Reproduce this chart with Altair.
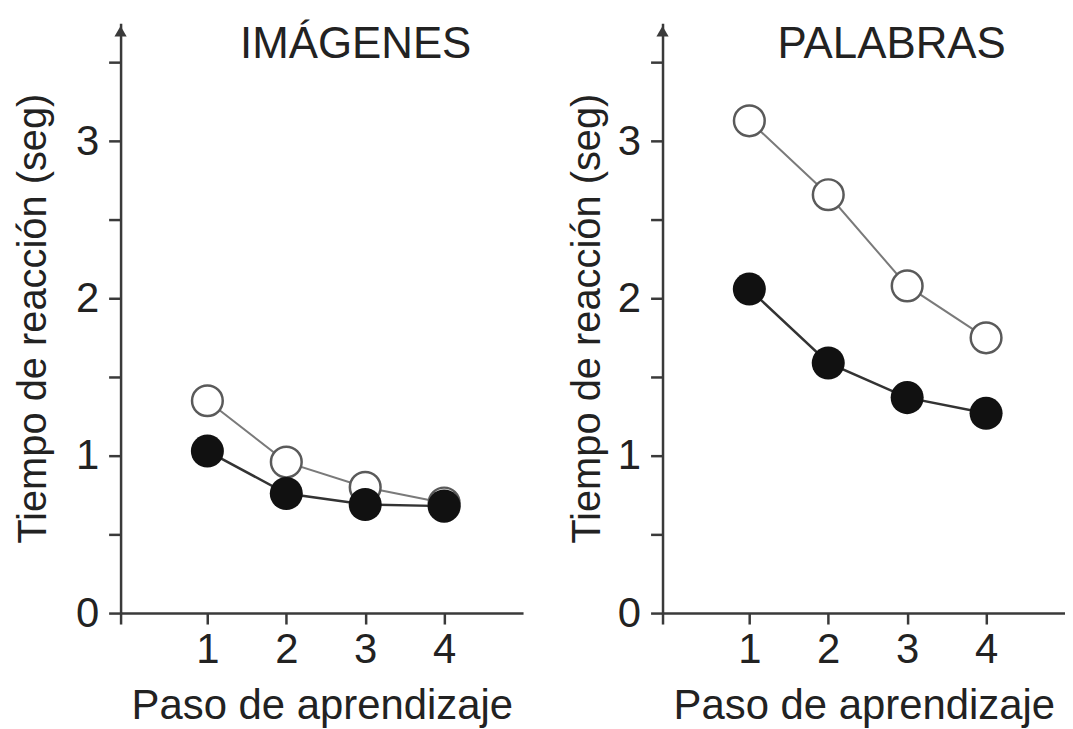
import altair as alt
import pandas as pd

# ---- data ----
steps = [1, 2, 3, 4]
imagenes_abierto = [1.35, 0.96, 0.80, 0.70]
imagenes_lleno = [1.03, 0.76, 0.69, 0.68]
palabras_abierto = [3.13, 2.66, 2.08, 1.75]
palabras_lleno = [2.06, 1.59, 1.37, 1.27]
panel_titles = ["IMÁGENES", "PALABRAS"]
x_title = "Paso de aprendizaje"
y_title = "Tiempo de reacción (seg)"
y_ticks = [0, 0.5, 1, 1.5, 2, 2.5, 3, 3.5]
x_ticks = [-0.1, 1, 2, 3, 4]

FONT = "Liberation Sans"
TXT = "#222222"
AX = "#3a3a3a"
W, H = 404, 592
X_DOM = [-0.1, 5.0]
Y_DOM = [0, 3.75]


def panel(title, open_vals, filled_vals, title_pad, title_x):
    df = pd.DataFrame({
        "paso": steps * 2,
        "t": open_vals + filled_vals,
        "c": ["o"] * len(steps) + ["f"] * len(steps),
    })
    x = alt.X(
        "paso:Q",
        scale=alt.Scale(domain=X_DOM, nice=False, zero=False),
        axis=alt.Axis(
            values=x_ticks,
            labelExpr="datum.value >= 1 ? format(datum.value, 'd') : ''",
            title=x_title,
            grid=False,
            domainColor=AX, domainWidth=2.5,
            tickColor=AX, tickWidth=2.5, tickSize=11,
            labelFont=FONT, labelFontSize=42, labelColor=TXT, labelPadding=6,
            titleFont=FONT, titleFontSize=42, titleFontWeight="normal",
            titleColor=TXT, titlePadding=15,
        ),
    )
    y = alt.Y(
        "t:Q",
        scale=alt.Scale(domain=Y_DOM, nice=False),
        axis=alt.Axis(
            values=y_ticks,
            labelExpr="datum.value % 1 == 0 ? format(datum.value, 'd') : ''",
            title=y_title,
            grid=False,
            domainColor=AX, domainWidth=2.5,
            tickColor=AX, tickWidth=2.5, tickSize=12,
            labelFont=FONT, labelFontSize=42, labelColor=TXT, labelPadding=10,
            titleFont=FONT, titleFontSize=40, titleFontWeight="normal",
            titleColor=TXT, titlePadding=title_pad,
        ),
    )
    base = alt.Chart(df).encode(x=x, y=y)
    line_o = base.transform_filter("datum.c == 'o'").mark_line(
        color="#7a7a7a", strokeWidth=2)
    line_f = base.transform_filter("datum.c == 'f'").mark_line(
        color="#333333", strokeWidth=2.5)
    pt_o = base.transform_filter("datum.c == 'o'").mark_point(
        shape="circle", filled=True, fill="white", stroke="#5a5a5a",
        strokeWidth=2.5, size=950, opacity=1)
    pt_f = base.transform_filter("datum.c == 'f'").mark_point(
        shape="circle", filled=True, color="#111111", size=1100, opacity=1)
    arrow = alt.Chart(pd.DataFrame({"paso": [X_DOM[0]], "t": [3.70]})).mark_point(
        shape="triangle-up", filled=True, color=AX, size=150, opacity=1
    ).encode(x=alt.X("paso:Q"), y=alt.Y("t:Q"))
    ttl = alt.Chart(pd.DataFrame({"txt": [title]})).mark_text(
        font=FONT, fontSize=44, color=TXT, align="center", baseline="alphabetic"
    ).encode(text="txt:N", x=alt.value(title_x), y=alt.value(35))
    return alt.layer(line_o, line_f, pt_o, pt_f, arrow, ttl).properties(width=W, height=H)


left = panel(panel_titles[0], imagenes_abierto, imagenes_lleno, 22, 236)
right = panel(panel_titles[1], palabras_abierto, palabras_lleno, 10, 230)

chart = alt.hconcat(left, right, spacing=44).properties(
    padding={"left": 5, "top": 14, "right": 0, "bottom": 0},
    background="white",
).configure_view(stroke=None)

chart.save("out.html", embed_options={"renderer": "svg", "actions": False})
